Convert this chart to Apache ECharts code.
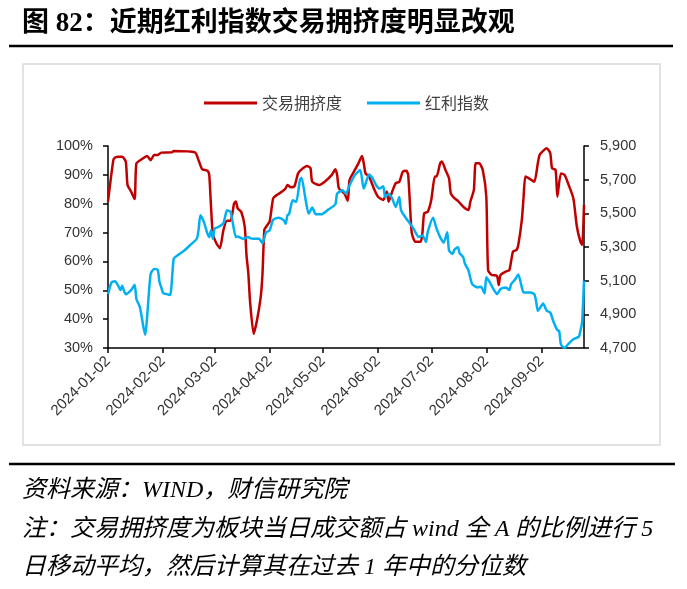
<!DOCTYPE html>
<html>
<head>
<meta charset="utf-8">
<script src="https://cdn.jsdelivr.net/npm/echarts@6/dist/echarts.min.js"></script>
<style>
html,body{margin:0;padding:0;background:#fff;}
#chart{width:687px;height:589px;}
</style>
</head>
<body>
<div id="chart"></div>
<script>
// ---- data ----
const startDate = '2024-01-02';
const endDate = '2024-09-26';
const tickLabels = ['2024-01-02','2024-02-02','2024-03-02','2024-04-02','2024-05-02','2024-06-02','2024-07-02','2024-08-02','2024-09-02'];
const leftTicks = [30, 100, 10];      // min, max, interval (%)
const rightTicks = [4700, 5900, 200]; // min, max, interval

const crowdDates = ['2024-01-02','2024-01-05','2024-01-06','2024-01-08','2024-01-10','2024-01-12','2024-01-13','2024-01-15','2024-01-17','2024-01-18','2024-01-21','2024-01-24','2024-01-26','2024-01-28','2024-01-30','2024-02-01','2024-02-07','2024-02-08','2024-02-20','2024-02-22','2024-02-24','2024-02-27','2024-02-28','2024-02-29','2024-03-01','2024-03-03','2024-03-05','2024-03-07','2024-03-09','2024-03-11','2024-03-13','2024-03-14','2024-03-15','2024-03-17','2024-03-19','2024-03-20','2024-03-21','2024-03-22','2024-03-24','2024-03-26','2024-03-28','2024-03-29','2024-03-30','2024-03-31','2024-04-02','2024-04-04','2024-04-06','2024-04-09','2024-04-11','2024-04-12','2024-04-14','2024-04-16','2024-04-18','2024-04-20','2024-04-23','2024-04-25','2024-04-26','2024-04-30','2024-05-03','2024-05-07','2024-05-09','2024-05-10','2024-05-11','2024-05-14','2024-05-16','2024-05-17','2024-05-20','2024-05-22','2024-05-24','2024-05-25','2024-05-26','2024-05-28','2024-05-31','2024-06-02','2024-06-05','2024-06-07','2024-06-08','2024-06-10','2024-06-12','2024-06-14','2024-06-16','2024-06-18','2024-06-19','2024-06-20','2024-06-21','2024-06-23','2024-06-26','2024-06-27','2024-06-28','2024-06-30','2024-07-02','2024-07-04','2024-07-05','2024-07-07','2024-07-08','2024-07-10','2024-07-12','2024-07-13','2024-07-15','2024-07-17','2024-07-19','2024-07-21','2024-07-23','2024-07-24','2024-07-26','2024-07-27','2024-07-29','2024-07-31','2024-08-02','2024-08-03','2024-08-05','2024-08-08','2024-08-09','2024-08-10','2024-08-13','2024-08-15','2024-08-17','2024-08-19','2024-08-20','2024-08-22','2024-08-23','2024-08-24','2024-08-26','2024-08-29','2024-08-31','2024-09-01','2024-09-03','2024-09-05','2024-09-07','2024-09-08','2024-09-10','2024-09-11','2024-09-13','2024-09-15','2024-09-17','2024-09-20','2024-09-22','2024-09-24','2024-09-25','2024-09-26'];
const crowdValues = [80.7,95.1,96.0,96.3,96.3,94.6,86.5,84.2,81.6,94.0,95.4,96.5,95.1,96.9,96.9,97.7,97.8,98.3,97.8,95.1,92.0,91.4,90.0,79.0,69.8,66.3,64.6,70.9,74.1,74.1,80.1,80.8,78.4,77.2,72.0,62.0,56.0,46.0,34.9,40.0,47.8,55.9,70.9,72.0,73.8,81.9,83.0,84.2,85.3,86.5,85.7,86.1,90.5,91.9,93.1,92.3,87.6,86.5,87.6,90.0,91.9,90.0,85.3,83.6,81.0,88.2,91.7,94.0,96.5,94.0,90.5,89.4,84.8,82.4,81.3,84.2,80.7,84.2,87.1,87.6,91.1,91.4,90.0,80.0,70.0,66.8,66.8,69.7,76.7,77.2,81.3,89.4,89.4,94.0,94.6,91.7,88.8,83.6,81.9,81.0,79.6,78.4,77.8,80.7,84.8,94.0,94.0,91.7,82.4,57.0,55.3,55.0,51.8,55.3,56.5,57.0,63.4,64.0,65.7,74.4,82.4,89.4,88.8,87.6,94.0,96.9,98.3,99.2,97.5,92.3,91.7,82.4,90.5,90.0,87.1,81.9,72.0,66.8,65.7,79.6];

const indexDates = ['2024-01-02','2024-01-04','2024-01-06','2024-01-08','2024-01-09','2024-01-10','2024-01-11','2024-01-12','2024-01-15','2024-01-17','2024-01-18','2024-01-20','2024-01-22','2024-01-23','2024-01-24','2024-01-26','2024-01-28','2024-01-30','2024-01-31','2024-02-01','2024-02-02','2024-02-04','2024-02-06','2024-02-08','2024-02-10','2024-02-14','2024-02-17','2024-02-21','2024-02-22','2024-02-23','2024-02-25','2024-02-27','2024-02-28','2024-02-29','2024-03-01','2024-03-02','2024-03-04','2024-03-07','2024-03-09','2024-03-11','2024-03-12','2024-03-14','2024-03-15','2024-03-18','2024-03-21','2024-03-22','2024-03-24','2024-03-27','2024-03-29','2024-03-31','2024-04-02','2024-04-04','2024-04-07','2024-04-10','2024-04-11','2024-04-12','2024-04-13','2024-04-15','2024-04-17','2024-04-19','2024-04-20','2024-04-22','2024-04-24','2024-04-26','2024-04-28','2024-05-01','2024-05-05','2024-05-09','2024-05-10','2024-05-13','2024-05-15','2024-05-17','2024-05-20','2024-05-23','2024-05-25','2024-05-28','2024-05-30','2024-06-01','2024-06-03','2024-06-05','2024-06-06','2024-06-08','2024-06-10','2024-06-12','2024-06-14','2024-06-15','2024-06-18','2024-06-20','2024-06-22','2024-06-25','2024-06-27','2024-06-29','2024-06-30','2024-07-03','2024-07-05','2024-07-07','2024-07-09','2024-07-11','2024-07-12','2024-07-14','2024-07-15','2024-07-17','2024-07-18','2024-07-20','2024-07-21','2024-07-23','2024-07-25','2024-07-28','2024-07-30','2024-08-01','2024-08-02','2024-08-04','2024-08-06','2024-08-08','2024-08-10','2024-08-13','2024-08-15','2024-08-16','2024-08-18','2024-08-20','2024-08-22','2024-08-23','2024-08-27','2024-08-29','2024-08-30','2024-08-31','2024-09-02','2024-09-03','2024-09-05','2024-09-07','2024-09-09','2024-09-11','2024-09-12','2024-09-13','2024-09-15','2024-09-17','2024-09-20','2024-09-23','2024-09-24','2024-09-25','2024-09-26'];
const indexValues = [5020,5090,5096,5064,5044,5070,5040,5020,5044,5076,4991,4941,4821,4778,4881,5140,5170,5164,5090,5060,5027,5020,5015,5230,5249,5279,5309,5349,5403,5488,5448,5379,5359,5400,5349,5409,5418,5442,5518,5508,5458,5359,5363,5349,5359,5353,5349,5349,5323,5388,5398,5462,5474,5458,5438,5488,5497,5578,5568,5697,5711,5597,5498,5534,5494,5494,5522,5554,5617,5637,5617,5667,5727,5757,5647,5731,5707,5667,5647,5661,5597,5617,5588,5538,5597,5518,5468,5440,5409,5359,5369,5329,5388,5474,5409,5359,5326,5388,5279,5259,5283,5299,5263,5239,5200,5160,5080,5060,5064,5024,5120,5090,5050,5020,5050,5060,5044,5080,5104,5136,5060,5030,5030,5020,4981,4921,4951,4965,4921,4911,4851,4806,4802,4722,4700,4722,4752,4766,4802,4861,5100];

const seriesNames = ['交易拥挤度', '红利指数'];
const titleText = '图 82：近期红利指数交易拥挤度明显改观';
const footerLines = ['资料来源：WIND，财信研究院', '注：交易拥挤度为板块当日成交额占 wind 全 A 的比例进行 5', '日移动平均，然后计算其在过去 1 年中的分位数'];

// ---- build calendar categories ----
function buildDays(a, b) {
  const out = [];
  const d = new Date(a + 'T00:00:00Z');
  const e = new Date(b + 'T00:00:00Z');
  while (d <= e) {
    out.push(d.toISOString().slice(0, 10));
    d.setUTCDate(d.getUTCDate() + 1);
  }
  return out;
}
const days = buildDays(startDate, endDate);
const pair = (ds, vs) => ds.map((d, i) => [d, vs[i]]);

const chart = echarts.init(document.getElementById('chart'), null, {renderer: 'canvas'});
const axisFont = '"Liberation Sans", "Noto Sans", sans-serif';
const serifCJK = '"Liberation Serif", "Noto Sans CJK SC", serif';

const showTick = (idx, val) => tickLabels.indexOf(val) >= 0;

chart.setOption({
  animation: false,
  backgroundColor: '#fff',
  legend: {
    data: seriesNames,
    left: 199,
    top: 90,
    icon: 'rect',
    itemWidth: 53,
    itemHeight: 3,
    itemGap: 25,
    textStyle: {fontSize: 16, color: '#404040', fontFamily: '"Noto Sans CJK SC", sans-serif'}
  },
  grid: {left: 108, right: 103, top: 146, bottom: 241, containLabel: false},
  xAxis: {
    type: 'category',
    data: days,
    boundaryGap: false,
    axisLine: {lineStyle: {color: '#000', width: 1.5}},
    axisTick: {show: true, interval: showTick, length: 5, lineStyle: {color: '#000', width: 1.5}},
    axisLabel: {interval: showTick, rotate: 45, fontSize: 15, color: '#333', fontFamily: axisFont, margin: 11},
    splitLine: {show: false}
  },
  yAxis: [
    {
      type: 'value', min: leftTicks[0], max: leftTicks[1], interval: leftTicks[2],
      axisLine: {show: true, lineStyle: {color: '#000', width: 1.5}},
      axisTick: {show: true, length: 5, lineStyle: {color: '#000', width: 1.5}},
      axisLabel: {formatter: '{value}%', fontSize: 14.5, color: '#333', fontFamily: axisFont, margin: 15},
      splitLine: {show: false}
    },
    {
      type: 'value', min: rightTicks[0], max: rightTicks[1], interval: rightTicks[2],
      position: 'right',
      axisLine: {show: true, lineStyle: {color: '#000', width: 1.5}},
      axisTick: {show: true, length: 5, lineStyle: {color: '#000', width: 1.5}},
      axisLabel: {formatter: v => v.toLocaleString('en-US'), fontSize: 14.5, color: '#333', fontFamily: axisFont, margin: 16},
      splitLine: {show: false}
    }
  ],
  series: [
    {
      name: seriesNames[0], type: 'line', yAxisIndex: 0,
      data: pair(crowdDates, crowdValues),
      showSymbol: false, symbol: 'none', smooth: 0.2,
      lineStyle: {color: '#C00000', width: 2.5},
      itemStyle: {color: '#C00000'}
    },
    {
      name: seriesNames[1], type: 'line', yAxisIndex: 1,
      data: pair(indexDates, indexValues),
      showSymbol: false, symbol: 'none', smooth: 0.2,
      lineStyle: {color: '#00B0F0', width: 2.5},
      itemStyle: {color: '#00B0F0'}
    }
  ],
  graphic: [
    {type: 'text', left: 22, top: 11, style: {text: titleText, fontSize: 27, fontWeight: 'bold', fontFamily: serifCJK, fill: '#000'}},
    {type: 'line', shape: {x1: 9, y1: 46, x2: 673, y2: 46}, style: {stroke: '#000', lineWidth: 2.5}},
    {type: 'rect', shape: {x: 23, y: 64, width: 637, height: 381}, style: {fill: 'none', stroke: '#d9d9d9', lineWidth: 1.5}, z: -1},
    {type: 'line', shape: {x1: 9, y1: 464, x2: 675, y2: 464}, style: {stroke: '#000', lineWidth: 2.5}},
    {type: 'text', left: 22, top: 479, style: {text: footerLines[0], fontSize: 24, fontStyle: 'italic', fontFamily: serifCJK, fill: '#000'}},
    {type: 'text', left: 22, top: 518, style: {text: footerLines[1], fontSize: 24, fontStyle: 'italic', fontFamily: serifCJK, fill: '#000'}},
    {type: 'text', left: 22, top: 556, style: {text: footerLines[2], fontSize: 24, fontStyle: 'italic', fontFamily: serifCJK, fill: '#000'}}
  ]
});
</script>
</body>
</html>
